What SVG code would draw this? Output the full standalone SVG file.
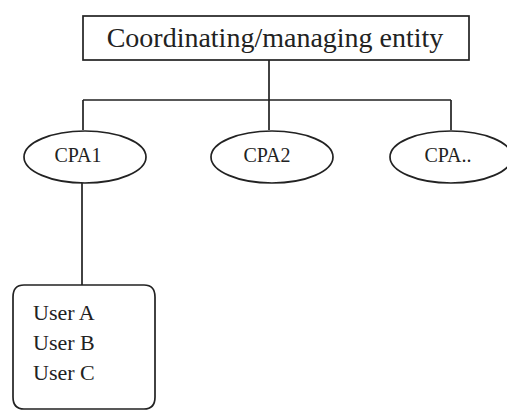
<svg xmlns="http://www.w3.org/2000/svg" width="507" height="411" viewBox="0 0 507 411">
<style>
.s{fill:#fff;stroke:#222;stroke-width:1.7}
.l{fill:none;stroke:#222;stroke-width:1.7}
text{font-family:"Liberation Serif","Times New Roman",serif;fill:#222}
</style>
<rect width="507" height="411" fill="#fff"/>
<g id="connectors">
<path class="l" d="M269 60V100M83 100H451M83 100V130M269 100V130M451 100V130M82 183V285"/>
</g>
<g id="entity">
<rect class="s" x="83" y="16" width="386" height="44"/>
<text x="275" y="47" font-size="28" text-anchor="middle">Coordinating/managing entity</text>
</g>
<g id="cpa1">
<ellipse class="s" cx="85" cy="157" rx="61" ry="26"/>
<text x="78" y="162" font-size="20" text-anchor="middle">CPA1</text>
</g>
<g id="cpa2">
<ellipse class="s" cx="272" cy="157" rx="61" ry="26"/>
<text x="267" y="162" font-size="20" text-anchor="middle">CPA2</text>
</g>
<g id="cpa3">
<ellipse class="s" cx="451" cy="157" rx="61" ry="26"/>
<text x="448" y="162" font-size="20" text-anchor="middle">CPA..</text>
</g>
<g id="users">
<path class="s" d="M24 285H144Q155 285 155 297V397Q155 409 144 409H24Q13 409 13 397V297Q13 285 24 285Z"/>
<text x="33" y="320" font-size="22">User A</text>
<text x="33" y="350" font-size="22">User B</text>
<text x="33" y="380" font-size="22">User C</text>
</g>
</svg>
